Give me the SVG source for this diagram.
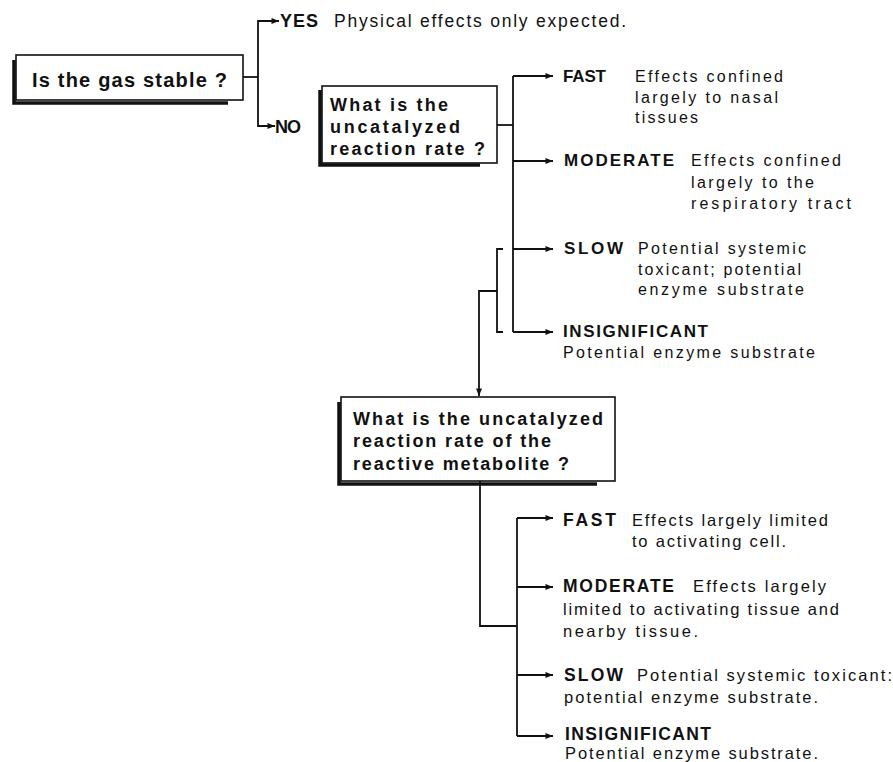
<svg xmlns="http://www.w3.org/2000/svg" width="893" height="762" viewBox="0 0 893 762">
<defs>
<marker id="arr" viewBox="0 0 10 8" refX="10" refY="4" markerUnits="userSpaceOnUse" markerWidth="9" markerHeight="6" orient="auto">
<path d="M0,0 L10,4 L0,8 Z" fill="#111"/>
</marker>
<style>
.bg{fill:#fff}
.box{fill:#fff;stroke:#111;stroke-width:1.6}
.sh{fill:none;stroke:#111;stroke-width:3.5}
.ln{fill:none;stroke:#111;stroke-width:1.8}
.ar{fill:none;stroke:#111;stroke-width:1.8;marker-end:url(#arr)}
text{font-family:"Liberation Sans",Arial,sans-serif;fill:#111}
.q1{font-size:20px;font-weight:bold}
.q{font-size:18px;font-weight:bold}
.yn{font-size:18px;font-weight:bold}
.t1{font-size:17.5px}
.b{font-size:17px;font-weight:bold}
.r{font-size:16px}
.b2{font-size:17.5px;font-weight:bold}
.r2{font-size:16.5px}
</style>
</defs>
<rect class="bg" x="0" y="0" width="893" height="762"/>

<g id="connectors">
<path class="ln" d="M243,77 H258"/>
<path class="ar" d="M258,77 V21 H279"/>
<path class="ar" d="M258,77 V126 H275"/>
<path class="ln" d="M497,125 H513"/>
<path class="ln" d="M513,76 V332"/>
<path class="ar" d="M513,76 H553"/>
<path class="ar" d="M513,161 H553"/>
<path class="ar" d="M513,249 H553"/>
<path class="ar" d="M513,332 H553"/>
<path class="ln" d="M503,249 H497 V332 H503"/>
<path class="ar" d="M497,291 H479 V396"/>
<path class="ln" d="M480,481 V626 H517"/>
<path class="ln" d="M517,518 V736"/>
<path class="ar" d="M517,518 H553"/>
<path class="ar" d="M517,587 H553"/>
<path class="ar" d="M517,675 H553"/>
<path class="ar" d="M517,736 H553"/>
</g>

<g id="q-gas-stable">
<path class="sh" d="M14,60 V103 H228"/>
<rect class="box" x="16" y="55" width="227" height="45"/>
<text class="q1" x="32" y="87" textLength="195" lengthAdjust="spacing">Is the gas stable ?</text>
</g>

<g id="yes">
<text class="yn" x="280" y="27" textLength="38" lengthAdjust="spacing">YES</text>
<text class="t1" x="334" y="27" textLength="292" lengthAdjust="spacing">Physical effects only expected.</text>
</g>

<g id="no">
<text class="yn" x="275" y="133" textLength="26" lengthAdjust="spacing">NO</text>
</g>

<g id="q-rate">
<path class="sh" d="M320,90 V165 H480"/>
<rect class="box" x="322" y="86" width="175" height="77"/>
<text class="q" x="330" y="111" textLength="118" lengthAdjust="spacing">What is the</text>
<text class="q" x="330" y="133" textLength="130" lengthAdjust="spacing">uncatalyzed</text>
<text class="q" x="330" y="155" textLength="155" lengthAdjust="spacing">reaction rate ?</text>
</g>

<g id="fast1">
<text class="b" x="563" y="82" textLength="43" lengthAdjust="spacing">FAST</text>
<text class="r" x="635" y="82" textLength="148" lengthAdjust="spacing">Effects confined</text>
<text class="r" x="635" y="103" textLength="143" lengthAdjust="spacing">largely to nasal</text>
<text class="r" x="635" y="123" textLength="63" lengthAdjust="spacing">tissues</text>
</g>

<g id="moderate1">
<text class="b" x="564" y="166" textLength="110" lengthAdjust="spacing">MODERATE</text>
<text class="r" x="691" y="166" textLength="150" lengthAdjust="spacing">Effects confined</text>
<text class="r" x="691" y="188" textLength="123" lengthAdjust="spacing">largely to the</text>
<text class="r" x="691" y="209" textLength="160" lengthAdjust="spacing">respiratory tract</text>
</g>

<g id="slow1">
<text class="b" x="564" y="254" textLength="59" lengthAdjust="spacing">SLOW</text>
<text class="r" x="638" y="254" textLength="168" lengthAdjust="spacing">Potential systemic</text>
<text class="r" x="638" y="275" textLength="163" lengthAdjust="spacing">toxicant; potential</text>
<text class="r" x="638" y="295" textLength="166" lengthAdjust="spacing">enzyme substrate</text>
</g>

<g id="insignificant1">
<text class="b" x="563" y="337" textLength="145" lengthAdjust="spacing">INSIGNIFICANT</text>
<text class="r" x="563" y="358" textLength="252" lengthAdjust="spacing">Potential enzyme substrate</text>
</g>

<g id="q-metabolite">
<path class="sh" d="M339,402 V484 H597"/>
<rect class="box" x="341" y="397" width="274" height="84"/>
<text class="q" x="353" y="425" textLength="250" lengthAdjust="spacing">What is the uncatalyzed</text>
<text class="q" x="353" y="447" textLength="198" lengthAdjust="spacing">reaction rate of the</text>
<text class="q" x="353" y="470" textLength="216" lengthAdjust="spacing">reactive metabolite ?</text>
</g>

<g id="fast2">
<text class="b2" x="563" y="526" textLength="53" lengthAdjust="spacing">FAST</text>
<text class="r2" x="632" y="526" textLength="196" lengthAdjust="spacing">Effects largely limited</text>
<text class="r2" x="632" y="547" textLength="154" lengthAdjust="spacing">to activating cell.</text>
</g>

<g id="moderate2">
<text class="b2" x="563" y="592" textLength="111" lengthAdjust="spacing">MODERATE</text>
<text class="r2" x="693" y="592" textLength="133" lengthAdjust="spacing">Effects largely</text>
<text class="r2" x="563" y="615" textLength="276" lengthAdjust="spacing">limited to activating tissue and</text>
<text class="r2" x="563" y="637" textLength="135" lengthAdjust="spacing">nearby tissue.</text>
</g>

<g id="slow2">
<text class="b2" x="564" y="681" textLength="59" lengthAdjust="spacing">SLOW</text>
<text class="r2" x="637" y="681" textLength="255" lengthAdjust="spacing">Potential systemic toxicant:</text>
<text class="r2" x="564" y="703" textLength="254" lengthAdjust="spacing">potential enzyme substrate.</text>
</g>

<g id="insignificant2">
<text class="b2" x="565" y="740" textLength="146" lengthAdjust="spacing">INSIGNIFICANT</text>
<text class="r2" x="565" y="759" textLength="253" lengthAdjust="spacing">Potential enzyme substrate.</text>
</g>
</svg>
